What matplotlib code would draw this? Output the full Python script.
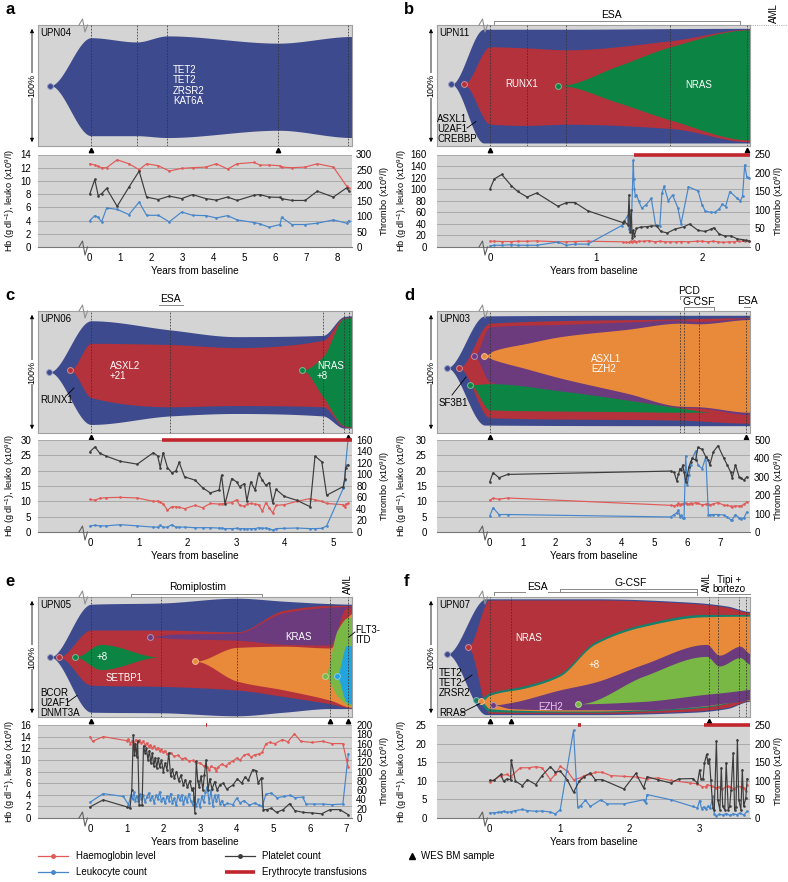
import numpy as np
import matplotlib

matplotlib.use("Agg")
import matplotlib.pyplot as plt
from matplotlib.lines import Line2D

plt.rcParams["font.family"] = ["Liberation Sans", "DejaVu Sans"]
plt.rcParams["mathtext.fontset"] = "custom"
plt.rcParams["mathtext.rm"] = "Liberation Sans"
plt.rcParams["mathtext.it"] = "Liberation Sans:italic"

W, H = 788, 882

# clone colours
BLUE = "#3e4a8e"
RED = "#b3323b"
GREEN = "#0c8544"
ORANGE = "#e98a3b"
PURPLE = "#6b3b7e"
LGREEN = "#79b845"
CYAN = "#22a4de"
TEAL = "#17806b"
# blood count colours
HB_C = "#e05a57"
PLT_C = "#3c3c3c"
LEU_C = "#4686cb"
TRANSF_C = "#c0262c"

# ---------------- blood counts ----------------
A_T = [0.02, 0.18, 0.29, 0.40, 0.56, 0.90, 1.28, 1.61, 1.85, 2.23, 2.58, 2.98, 3.33, 3.76,
       4.10, 4.46, 4.77, 5.32, 5.50, 5.80, 6.15, 6.20, 6.53, 6.96, 7.35, 7.87, 8.30, 8.37]
A_HB = [12.6, 12.4, 12.2, 12.0, 12.0, 13.2, 12.6, 11.7, 12.6, 12.3, 11.5, 11.9, 12.0, 12.1,
        12.6, 11.8, 12.6, 12.8, 12.4, 12.4, 12.3, 12.1, 12.0, 12.1, 12.6, 12.1, 9.2, 8.9]
A_PLT = [172, 219, 167, 173, 190, 132, 194, 246, 162, 154, 165, 157, 170, 157,
         152, 162, 151, 168, 170, 162, 161, 157, 151, 151, 181, 162, 192, 181]
A_LEU = [4.0, 4.75, 4.5, 3.8, 5.9, 5.7, 4.9, 6.8, 4.8, 4.8, 3.8, 5.3, 4.8, 4.75,
         4.4, 4.75, 4.1, 3.7, 3.5, 3.0, 3.4, 4.5, 3.4, 3.4, 3.6, 4.1, 3.6, 4.0]

B_HB_T = [0, 0.04, 0.11, 0.2, 0.26, 0.35, 0.44, 0.64, 0.72, 0.8, 0.92, 1.25, 1.28, 1.31, 1.33,
          1.34, 1.36, 1.38, 1.4, 1.45, 1.5, 1.55, 1.6, 1.65, 1.7, 1.75, 1.8, 1.87, 1.95, 2.0,
          2.05, 2.1, 2.15, 2.2, 2.25, 2.3, 2.35, 2.4, 2.44]
B_HB = [10, 10, 9.5, 9.5, 10, 10, 10.5, 9, 9, 9.5, 10, 9, 8, 8, 10, 9, 11, 9, 10, 10,
        11, 9, 10, 9, 9, 9, 9.5, 9, 10, 10, 9, 10, 9, 8, 9, 9, 10, 10, 10]
B_PLT_T = [0, 0.04, 0.11, 0.2, 0.26, 0.35, 0.44, 0.64, 0.72, 0.8, 0.92, 1.25, 1.26, 1.3, 1.31,
           1.32, 1.33, 1.34, 1.35, 1.36, 1.38, 1.42, 1.48, 1.52, 1.57, 1.61, 1.67, 1.74, 1.83,
           1.88, 1.96, 2.03, 2.08, 2.11, 2.16, 2.21, 2.27, 2.33, 2.38, 2.41, 2.44]
B_PLT = [157, 184, 196, 166, 150, 135, 146, 110, 120, 120, 98, 66, 69, 60, 141, 40, 100, 25,
         45, 30, 50, 54, 55, 57, 57, 42, 38, 48, 55, 62, 45, 42, 48, 52, 35, 30, 30, 22, 20, 18, 16]
B_LEU_T = [0, 0.04, 0.11, 0.2, 0.26, 0.35, 0.44, 0.64, 0.72, 0.8, 0.92, 1.24, 1.3, 1.31, 1.33,
           1.35, 1.355, 1.36, 1.37, 1.38, 1.4, 1.43, 1.47, 1.52, 1.56, 1.6, 1.62, 1.64, 1.68,
           1.72, 1.77, 1.8, 1.87, 1.96, 2.0, 2.03, 2.08, 2.12, 2.16, 2.19, 2.22, 2.26, 2.33,
           2.36, 2.38, 2.40, 2.42, 2.44]
B_LEU = [2, 3, 3, 4, 3, 3, 3, 8.6, 3, 5, 5, 37, 55, 32, 28, 150, 118, 100, 88, 90, 80, 67, 73,
         84, 38, 37, 93, 105, 80, 90, 68, 40, 104, 97, 72, 62, 60, 60, 66, 74, 70, 96, 84, 80,
         88, 142, 121, 120]

C_T = [0, 0.1, 0.2, 0.33, 0.62, 0.97, 1.3, 1.39, 1.44, 1.5, 1.59, 1.68, 1.76, 1.83, 1.94,
       2.16, 2.31, 2.47, 2.65, 2.7, 2.77, 2.91, 3.01, 3.07, 3.17, 3.22, 3.3, 3.39, 3.46, 3.54,
       3.61, 3.68, 3.75, 3.82, 3.99, 4.25, 4.52, 4.62, 4.76, 4.86, 5.2, 5.23, 5.25, 5.3]
C_PLT = [140, 148, 137, 132, 123, 118, 138, 132, 112, 138, 112, 103, 106, 121, 96,
         90, 77, 68, 73, 99, 49, 93, 87, 79, 84, 54, 87, 73, 102, 90,
         81, 86, 51, 74, 62, 55, 44, 132, 122, 64, 79, 93, 112, 117]
C_HB = [10.6, 10.4, 11.0, 11.2, 11.3, 11.1, 10.0, 10.1, 9.8, 9.2, 7.1, 8.3, 8.2, 8.1, 7.6,
        8.7, 7.9, 9.3, 9.1, 9.2, 9.3, 9.6, 10.5, 8.7, 8.4, 9.1, 9.3, 9.1, 8.9, 6.8,
        9.6, 7.9, 6.2, 8.7, 8.9, 10.0, 10.9, 10.5, 10.0, 9.3, 8.9, 8.2, 9.1, 9.3]
C_LEU = [2.0, 2.2, 2.0, 2.0, 2.4, 2.0, 1.6, 1.6, 2.2, 1.6, 1.6, 2.4, 1.6, 1.6, 1.6,
         1.4, 1.4, 1.4, 1.3, 1.3, 1.1, 1.1, 1.2, 1.1, 1.1, 1.0, 1.1, 1.1, 1.4, 1.2,
         1.3, 1.1, 0.55, 1.1, 1.2, 1.3, 1.1, 1.1, 1.2, 2.0, 14.2, 16.9, 22.0, 30.5]

D_T = [0, 0.1, 0.28, 0.54, 5.48, 5.59, 5.67, 5.72, 5.77, 5.81, 5.85, 5.89, 5.94, 5.99,
       6.04, 6.09, 6.14, 6.24, 6.31, 6.44, 6.55, 6.63, 6.67, 6.78, 6.92, 7.1, 7.2, 7.3,
       7.35, 7.45, 7.56, 7.63, 7.71, 7.79]
D_PLT = [273, 322, 295, 313, 331, 324, 278, 313, 345, 336, 364, 327, 273, 309,
         355, 382, 400, 391, 460, 449, 409, 390, 364, 436, 469, 400, 364, 327,
         295, 364, 300, 291, 282, 300]
D_LEU = [5.2, 7.9, 5.7, 5.7, 4.9, 5.7, 6.3, 7.1, 4.9, 5.5, 4.6, 4.6, 24.9, 15.3,
         18.5, 21.8, 24.0, 26.4, 21.8, 20.7, 24.5, 5.5, 5.6, 5.7, 5.7, 5.5, 4.9, 4.0,
         4.0, 5.7, 4.6, 4.4, 4.6, 6.5]
D_HB = [10.4, 11.0, 10.7, 11.1, 8.7, 8.6, 8.8, 9.3, 8.9, 9.2, 9.0, 9.5, 9.3, 9.2,
        9.1, 9.4, 9.2, 9.6, 9.3, 8.9, 9.0, 9.1, 8.8, 9.2, 9.6, 8.7, 8.7, 8.4,
        8.3, 8.6, 8.4, 8.6, 9.0, 9.8]

E_HB_T = [0.0, 0.07, 0.36, 1.0, 1.05, 1.1, 1.15, 1.2, 1.25, 1.3, 1.35, 1.4, 1.45, 1.5, 1.55,
          1.6, 1.65, 1.7, 1.75, 1.8, 1.85, 1.9, 1.95, 2.0, 2.05, 2.1, 2.2, 2.3, 2.4, 2.5,
          2.6, 2.7, 2.8, 2.9, 3.0, 3.1, 3.2, 3.25, 3.3, 3.4, 3.45, 3.5, 3.6, 3.7, 3.8,
          3.9, 4.0, 4.1, 4.2, 4.3, 4.4, 4.5, 4.6, 4.7, 4.8, 4.9, 5.05, 5.25, 5.4, 5.58,
          5.75, 6.05, 6.35, 6.6, 6.9, 7.0, 7.05]
E_HB = [14.0, 13.2, 14.0, 13.3, 13.6, 12.8, 13.3, 12.6, 13.5, 13.0, 13.4, 12.9, 13.2, 12.6,
        12.9, 12.3, 12.6, 12.0, 12.4, 11.8, 12.1, 11.5, 11.8, 11.3, 11.6, 11.0, 11.2, 10.6,
        10.8, 10.2, 10.3, 9.8, 9.9, 9.4, 9.5, 9.0, 8.8, 8.2, 8.9, 8.6, 8.1, 8.8, 9.3, 8.9,
        9.5, 9.8, 10.3, 10.0, 10.8, 11.0, 10.5, 10.9, 11.0, 11.3, 12.8, 13.0, 12.8, 13.5,
        13.1, 14.5, 13.2, 13.0, 13.2, 12.8, 12.8, 10.0, 8.8]
E_PLT_T = [0.0, 0.36, 1.0, 1.09, 1.14, 1.18, 1.21, 1.24, 1.27, 1.3, 1.34, 1.42, 1.46, 1.5,
           1.54, 1.58, 1.62, 1.66, 1.7, 1.74, 1.78, 1.82, 1.86, 1.9, 1.95, 2.0, 2.05, 2.1,
           2.15, 2.2, 2.25, 2.3, 2.36, 2.42, 2.48, 2.55, 2.6, 2.66, 2.72, 2.78, 2.82, 2.86,
           2.9, 2.94, 2.98, 3.03, 3.08, 3.12, 3.17, 3.22, 3.27, 3.33, 3.4, 3.47, 3.55, 3.64,
           3.73, 3.9, 4.02, 4.14, 4.23, 4.32, 4.44, 4.53, 4.59, 4.68, 4.73, 4.82, 4.95, 5.09,
           5.27, 5.45, 5.59, 5.82, 6.05, 6.32, 6.55, 6.82, 7.05]
E_PLT = [24, 39, 24, 21, 60, 179, 135, 160, 132, 165, 28, 27, 155, 140, 150, 125, 145, 118,
         140, 112, 130, 108, 128, 110, 124, 100, 118, 104, 140, 90, 105, 86, 100, 80, 92, 70,
         82, 66, 80, 60, 65, 11, 122, 80, 66, 90, 60, 92, 125, 60, 84, 62, 78, 60, 72, 75,
         62, 71, 84, 75, 88, 81, 104, 102, 75, 87, 18, 18, 21, 12, 18, 31, 16, 12, 11, 9,
         18, 18, 7]
E_LEU_T = [0.0, 0.36, 0.91, 1.05, 1.12, 1.16, 1.2, 1.24, 1.28, 1.32, 1.36, 1.4, 1.45, 1.5,
           1.55, 1.6, 1.65, 1.7, 1.75, 1.8, 1.85, 1.9, 1.95, 2.0, 2.05, 2.1, 2.15, 2.2, 2.25,
           2.3, 2.35, 2.4, 2.45, 2.5, 2.55, 2.6, 2.65, 2.7, 2.75, 2.8, 2.85, 2.9, 2.95, 3.0,
           3.05, 3.1, 3.15, 3.2, 3.25, 3.3, 3.35, 3.4, 3.45, 3.5, 3.55, 3.6, 3.65, 3.75, 3.9,
           4.0, 4.1, 4.2, 4.35, 4.5, 4.6, 4.7, 4.8, 4.95, 5.1, 5.3, 5.45, 5.6, 5.8, 5.9, 6.1,
           6.35, 6.6, 6.9, 7.05]
E_LEU = [2.7, 4.2, 3.7, 2.3, 4.0, 3.2, 4.4, 3.0, 3.8, 2.9, 4.1, 3.3, 3.9, 2.8, 3.6, 4.3, 3.1,
         3.7, 2.6, 3.9, 3.3, 4.5, 2.9, 3.5, 2.5, 3.8, 3.0, 4.2, 2.6, 3.4, 2.2, 3.9, 3.1, 4.0,
         2.4, 3.6, 2.8, 4.2, 3.0, 2.3, 3.6, 2.0, 3.2, 1.9, 3.8, 2.7, 4.4, 5.4, 2.6, 4.8, 2.1,
         3.9, 2.9, 4.0, 2.4, 3.0, 2.2, 2.5, 2.3, 3.4, 2.6, 3.0, 2.2, 2.6, 2.2, 2.0, 4.1, 4.3,
         3.5, 3.7, 3.9, 3.5, 3.6, 2.4, 2.4, 2.4, 2.3, 2.4, 11.0]

F_HB_T = [0, 0.06, 0.16, 0.25, 0.3, 0.44, 0.56, 0.66, 0.75, 0.87, 0.94, 1.01, 1.11, 1.2, 1.3,
          1.35, 1.44, 1.51, 1.61, 1.73, 1.92, 2.11, 2.25, 2.4, 2.59, 2.87, 2.97, 3.04, 3.09,
          3.11, 3.18, 3.23, 3.28, 3.32, 3.4, 3.44, 3.49, 3.54, 3.59, 3.63, 3.66, 3.68]
F_HB = [9.6, 10.1, 11.4, 11.7, 11.1, 13.5, 13.5, 13.8, 13.5, 10.3, 11.7, 13.9, 12.6, 10.3,
        10.8, 11.4, 11.7, 12.3, 12.3, 11.4, 11.2, 11.0, 10.5, 10.8, 10.1, 9.4, 9.2, 8.4, 8.4,
        9.0, 8.5, 8.1, 8.4, 7.8, 8.5, 8.4, 7.8, 8.5, 8.4, 8.1, 7.2, 9.0]
F_PLT_T = [0, 0.06, 0.16, 0.2, 0.25, 0.3, 0.31, 0.37, 0.47, 0.54, 0.66, 0.75, 0.87, 0.94,
           1.01, 1.11, 1.2, 1.28, 1.35, 1.44, 1.51, 1.61, 1.92, 2.09, 2.2, 2.25, 2.4, 2.59,
           2.7, 2.9, 2.97, 3.0, 3.02, 3.05, 3.07, 3.1, 3.12, 3.14, 3.16, 3.19, 3.21, 3.24,
           3.26, 3.29, 3.31, 3.33, 3.36, 3.38, 3.41, 3.43, 3.45, 3.48, 3.5, 3.52, 3.54, 3.56,
           3.59, 3.61, 3.63, 3.66, 3.68]
F_PLT = [101, 101, 117, 99, 105, 103, 155, 99, 87, 103, 90, 114, 138, 123, 126, 103, 69, 99,
         111, 121, 103, 103, 78, 120, 81, 111, 103, 94, 105, 106, 94, 129, 105, 105, 148, 171,
         148, 159, 103, 27, 22, 207, 49, 22, 135, 31, 22, 148, 22, 31, 76, 175, 22, 30, 211,
         49, 22, 130, 31, 54, 106]
F_LEU_T = [0, 0.06, 0.12, 0.16, 0.2, 0.25, 0.3, 0.37, 0.47, 0.54, 0.66, 0.75, 0.87, 0.94,
           1.01, 1.2, 1.26, 1.3, 1.37, 1.44, 1.59, 1.68, 1.92, 2.2, 2.23, 2.25, 2.59, 2.9,
           2.97, 3.0, 3.03, 3.06, 3.09, 3.12, 3.15, 3.19, 3.21, 3.24, 3.28, 3.33, 3.38, 3.43,
           3.48, 3.53, 3.58, 3.63, 3.68]
F_LEU = [1.35, 1.4, 1.5, 1.6, 1.8, 1.5, 1.7, 2.0, 2.3, 2.0, 1.8, 1.9, 1.6, 1.1, 2.25, 23.6,
         3.0, 3.3, 4.8, 3.1, 4.9, 3.8, 3.8, 4.9, 4.0, 6.3, 4.9, 3.1, 2.7, 4.7, 2.5, 3.0, 2.4,
         3.2, 2.6, 5.8, 1.2, 0.6, 1.0, 0.8, 1.2, 0.7, 1.1, 0.9, 1.3, 0.8, 1.8]

# ---------------- clonal evolution (fish plots) ----------------
# (colour, emergence time, emergence position, key times, upper edge, lower edge)
A_CLONES = [
    (BLUE, -1.26, 0.0, [0.06, 1.53, 2.52, 6.1, 8.47], [0.79, 0.72, 0.82, 0.70, 0.81],
     [-0.83, -0.83, -0.86, -0.74, -0.86]),
]
B_CLONES = [
    (BLUE, -0.365, 0.02, [-0.06, 0.72, 1.7, 2.45], [0.93, 0.93, 0.94, 0.945],
     [-0.95, -0.95, -0.95, -0.95]),
    (RED, -0.25, 0.02, [0.0, 0.35, 0.72, 1.7, 2.45], [0.64, 0.62, 0.59, 0.74, 0.93],
     [-0.64, -0.66, -0.64, -0.71, -0.93]),
    (GREEN, 0.645, 0.0, [1.2, 1.7, 2.45], [0.32, 0.64, 0.92], [-0.28, -0.57, -0.90]),
]
C_CLONES = [
    (BLUE, -0.84, 0.0, [0.02, 1.65, 3.0, 4.78, 5.22, 5.38], [0.84, 0.69, 0.58, 0.60, 0.91, 0.92],
     [-0.86, -0.72, -0.68, -0.72, -0.92, -0.92]),
    (RED, -0.41, 0.03, [0.02, 1.65, 3.0, 4.78, 5.22, 5.38], [0.47, 0.45, 0.40, 0.52, 0.89, 0.90],
     [-0.42, -0.57, -0.55, -0.57, -0.90, -0.91]),
    (GREEN, 4.35, 0.03, [4.78, 5.22, 5.38], [0.25, 0.88, 0.89], [-0.40, -0.88, -0.90]),
]
D_CLONES = [
    (BLUE, -1.3, 0.07, [-0.15, 5.76, 7.89], [0.92, 0.93, 0.93], [-0.87, -0.88, -0.88]),
    (RED, -0.94, 0.07, [0.0, 5.76, 7.89], [0.80, 0.87, 0.89], [-0.75, -0.79, -0.84]),
    (PURPLE, -0.48, 0.26, [0.0, 2.15, 4.17, 5.76, 6.34, 7.89], [0.74, 0.78, 0.82, 0.85, 0.83, 0.88],
     [-0.16, -0.33, -0.46, -0.58, -0.59, -0.70]),
    (GREEN, -0.6, -0.21, [0.0, 2.15, 4.17, 5.76, 6.8], [-0.19, -0.31, -0.46, -0.59, -0.66],
     [-0.62, -0.64, -0.65, -0.66, -0.66]),
    (ORANGE, -0.18, 0.26, [0.12, 1.13, 2.15, 4.17, 5.76, 6.34, 7.89],
     [0.35, 0.47, 0.58, 0.70, 0.80, 0.79, 0.86], [0.20, 0.05, -0.10, -0.35, -0.56, -0.57, -0.66]),
]
E_CLONES = [
    (BLUE, -1.09, 0.0, [0.03, 1.95, 4.0, 5.3, 6.55, 7.15], [0.88, 0.90, 0.98, 0.93, 0.89, 0.88],
     [-0.92, -0.93, -0.98, -0.92, -0.86, -0.86]),
    (RED, -0.86, 0.0, [0.03, 1.95, 4.0, 5.3, 6.55, 7.15], [0.45, 0.45, 0.42, 0.78, 0.86, 0.86],
     [-0.47, -0.49, -0.55, -0.66, -0.78, -0.85]),
    (GREEN, -0.41, 0.0, [0.3, 1.9], [0.21, 0.0], [-0.21, 0.0]),
    (PURPLE, 1.63, 0.34, [2.2, 4.0, 5.3, 6.55, 7.0], [0.38, 0.40, 0.74, 0.83, 0.84],
     [0.31, 0.28, 0.21, 0.20, 0.82]),
    (ORANGE, 2.86, -0.07, [4.0, 5.3, 6.55, 7.15], [0.16, 0.18, 0.15, 0.72],
     [-0.40, -0.55, -0.72, -0.84]),
    (LGREEN, 6.4, -0.32, [6.75, 7.05, 7.15], [0.45, 0.66, 0.66], [-0.65, -0.80, -0.81]),
    (CYAN, 6.73, -0.32, [7.0, 7.15], [0.19, 0.19], [-0.75, -0.78]),
]
F_CLONES = [
    (BLUE, -0.61, 0.05, [-0.05, 1.5, 2.92, 3.39, 3.72], [0.97, 0.97, 0.91, 0.85, 0.76],
     [-0.96, -0.96, -0.92, -0.86, -0.74]),
    (RED, -0.31, 0.17, [0.0, 1.5, 2.92, 3.39, 3.72], [0.95, 0.95, 0.89, 0.83, 0.745],
     [-0.94, -0.94, -0.90, -0.84, -0.73]),
    (TEAL, -0.19, -0.72, [0.0, 0.53, 1.0, 1.5, 2.2, 3.06, 3.72], [-0.60, -0.47, -0.28, 0.25, 0.55, 0.71, 0.71],
     [-0.91, -0.92, -0.92, -0.92, -0.90, -0.84, -0.725]),
    (ORANGE, -0.12, -0.74, [0.0, 0.53, 1.0, 1.5, 2.2, 3.06, 3.72], [-0.64, -0.51, -0.32, 0.21, 0.51, 0.67, 0.68],
     [-0.86, -0.89, -0.90, -0.90, -0.88, -0.82, -0.72]),
    (PURPLE, 0.05, -0.80, [0.3, 1.0, 1.5, 2.2, 3.1, 3.28, 3.58, 3.72],
     [-0.76, -0.55, -0.42, -0.12, 0.21, 0.03, 0.18, 0.06],
     [-0.86, -0.88, -0.88, -0.88, -0.81, -0.78, -0.74, -0.71]),
    (LGREEN, 1.27, -0.78, [2.2, 3.1, 3.28, 3.58, 3.72], [-0.32, 0.01, -0.15, -0.01, -0.12],
     [-0.74, -0.62, -0.60, -0.56, -0.54]),
]

# sample times (dashed lines), WES samples, transfusion periods
A_SAMPLES = [0.06, 1.53, 2.52, 6.1, 8.33]
B_SAMPLES = [0.0, 0.35, 0.72, 1.70, 2.42]
C_SAMPLES = [0.02, 1.65, 4.78, 5.22, 5.32]
D_SAMPLES = [0.0, 5.76, 5.9, 6.34, 7.78]
E_SAMPLES = [0.03, 1.95, 4.0, 6.55, 7.05]
F_SAMPLES = [0.01, 0.3, 3.14, 3.27, 3.56, 3.67]
A_WES = [0.06, 6.1]
B_WES = [0.0, 2.42]
C_WES = [0.02, 5.3]
D_WES = [0.0, 7.78]
E_WES = [0.03, 6.55, 7.05]
F_WES = [0.01, 0.3, 3.14]
B_TRANSF = [(1.36, 2.45)]
C_TRANSF = [(1.47, 5.38)]
E_TRANSF = [(3.16, 3.2)]
F_TRANSF = [(1.26, 1.30), (3.06, 3.72)]

COLS = {0: (38, 352), 1: (437, 750)}
ROWS = {0: (25, 146, 154.5, 247), 1: (311, 433, 440, 532), 2: (597, 717, 725, 818)}

fig = plt.figure(figsize=(W / 100, H / 100), dpi=100)


def add_px_axes(x0, y0, x1, y1):
    return fig.add_axes([x0 / W, 1 - y1 / H, (x1 - x0) / W, (y1 - y0) / H])


def ftext(x, y, s, **kw):
    kw.setdefault("fontsize", 7)
    kw.setdefault("va", "center")
    fig.text(x / W, 1 - y / H, s, **kw)


def fline(xs, ys, **kw):
    kw.setdefault("color", "black")
    kw.setdefault("lw", 0.6)
    fig.add_artist(Line2D([x / W for x in xs], [1 - y / H for y in ys], **kw))


def pchip(kt, kv, tt):
    kt = np.asarray(kt, float)
    kv = np.asarray(kv, float)
    h = np.diff(kt)
    d = np.diff(kv) / h
    m = np.zeros_like(kv)
    for i in range(1, len(kv) - 1):
        if d[i - 1] * d[i] > 0:
            w1 = 2 * h[i] + h[i - 1]
            w2 = h[i] + 2 * h[i - 1]
            m[i] = (w1 + w2) / (w1 / d[i - 1] + w2 / d[i])
    idx = np.clip(np.searchsorted(kt, tt, side="right") - 1, 0, len(kt) - 2)
    hh = h[idx]
    u = np.clip((tt - kt[idx]) / hh, 0, 1)
    return ((2 * u**3 - 3 * u**2 + 1) * kv[idx] + (u**3 - 2 * u**2 + u) * hh * m[idx]
            + (-2 * u**3 + 3 * u**2) * kv[idx + 1] + (u**3 - u**2) * hh * m[idx + 1])


def lighten(c, f=0.45):
    r, g, b = matplotlib.colors.to_rgb(c)
    return (r + (1 - r) * f, g + (1 - g) * f, b + (1 - b) * f)


def draw_panel(letter, col, row, xlim, xticks, lmax, lstep, rmax, rstep, series, clones,
               samples, wes, transf, upn):
    x0, x1 = COLS[col]
    fy0, fy1, cy0, cy1 = ROWS[row]
    half = (fy1 - fy0) / 2

    # fish plot
    af = add_px_axes(x0, fy0, x1, fy1)
    af.set_xlim(xlim)
    af.set_ylim(-1, 1)
    af.set_facecolor("#d4d4d4")
    af.set_xticks([])
    af.set_yticks([])
    for s in af.spines.values():
        s.set_color("#a0a0a0")
        s.set_linewidth(0.8)
    for color, t0, y0, kt, hi, lo in clones:
        tt = np.linspace(t0, xlim[1], 500)
        top = pchip([t0] + kt, [y0] + hi, tt)
        bot = pchip([t0] + kt, [y0] + lo, tt)
        af.fill_between(tt, bot, top, color=color, lw=0, zorder=2)
        af.plot([t0], [y0], "o", ms=4.2, mfc=color, mec=lighten(color), mew=0.7, zorder=3)
    for t in samples:
        af.axvline(t, color="#333333", lw=0.55, ls=(0, (2.2, 1.8)), zorder=4)
    af.plot(wes, [-1 - 3.5 / half] * len(wes), "^", color="black", ms=3.2, clip_on=False,
            zorder=5)

    # blood counts
    ac = add_px_axes(x0, cy0, x1, cy1)
    ac.set_facecolor("#d4d4d4")
    ac.set_xlim(xlim)
    ac.set_ylim(0, lmax)
    ac.set_yticks(np.arange(0, lmax + 0.01, lstep))
    ac.set_xticks(xticks)
    ac.yaxis.grid(True, color="#a2a2a2", lw=0.6)
    ac.set_axisbelow(True)
    for k in ("left", "right", "top"):
        ac.spines[k].set_visible(False)
    ac.spines["bottom"].set_color("#777777")
    ac.spines["bottom"].set_linewidth(0.8)
    ac.tick_params(length=0, labelsize=7, pad=5 if col == 0 else 7.5)
    ac.tick_params(axis="x", pad=4)
    ar = ac.twinx()
    ar.set_ylim(0, rmax)
    ar.set_yticks(np.arange(0, rmax + 0.01, rstep))
    for s in ar.spines.values():
        s.set_visible(False)
    ar.tick_params(length=0, labelsize=7, pad=3)
    for t, v, c, side in series:
        target = ar if side == "R" else ac
        target.plot(t, v, "-o", color=c, lw=0.85, ms=1.9, mew=0)
    for t1, t2 in transf:
        ac.plot([t1, t2], [lmax, lmax], color=TRANSF_C, lw=2.6, clip_on=False,
                solid_capstyle="butt", zorder=6)

    # axis break marks
    bx = 79 if col == 0 else 479
    fline([bx, bx + 3.5, bx + 6, bx + 8.5], [fy0, fy0 - 6, fy0 + 7, fy0], color="#909090", lw=0.8)
    fline([bx, bx + 3.5, bx + 6, bx + 8.5], [cy1, cy1 - 6, cy1 + 8, cy1], color="#606060", lw=0.8)

    # 100% arrow
    ax_x = x0 - 6
    fig.add_artist(matplotlib.patches.FancyArrowPatch(
        (ax_x / W, 1 - (fy1 - 1) / H), (ax_x / W, 1 - (fy0 + 1) / H),
        transform=fig.transFigure, arrowstyle="<|-|>,head_length=2.2,head_width=1.1",
        lw=0.6, color="black"))
    ftext(ax_x, (fy0 + fy1) / 2, "100%", fontsize=6.5, rotation=90, ha="center",
          bbox=dict(fc="white", ec="none", pad=0.6))

    ftext(x0 + 2.5, fy0 + 8, upn, fontsize=7, ha="left")
    ftext(x0 - 33, fy0 - 16, letter, fontsize=12, fontweight="bold", ha="left")

    # axis labels
    cmid = (cy0 + cy1) / 2
    ftext(10 if col == 0 else 402, cmid,
          r"Hb (g dl$^{-1}$), leuko (x10$^{9}$/l)", fontsize=6.6, rotation=90, ha="center")
    ftext(x1 + 33 if col == 0 else 779, cmid, r"Thrombo (x10$^{9}$/l)", fontsize=6.6,
          rotation=90, ha="center")
    ftext((x0 + x1) / 2, cy1 + 24, "Years from baseline", fontsize=7.2, ha="center")
    return af


def bracket(af, t1, t2, y, top, half, ticks=True):
    yd = 1 + (top - y) / half
    af.plot([t1, t2], [yd, yd], color="#8a8a8a", lw=0.7, clip_on=False)
    if ticks:
        for t in (t1, t2):
            af.plot([t, t], [yd, yd - 2.5 / half], color="#8a8a8a", lw=0.7, clip_on=False)


W_ = "white"

# ---- panel a ----
af = draw_panel("a", 0, 0, (-1.65, 8.47), range(0, 9), 14, 2, 300, 50,
                [(A_T, A_HB, HB_C, "L"), (A_T, A_LEU, LEU_C, "L"), (A_T, A_PLT, PLT_C, "R")],
                A_CLONES, A_SAMPLES, A_WES, [], "UPN04")
ftext(173, 85.5, "TET2\nTET2\nZRSR2\nKAT6A", color=W_, ha="left", linespacing=1.05)

# ---- panel b ----
af = draw_panel("b", 1, 0, (-0.50, 2.45), [0, 1, 2], 160, 20, 250, 50,
                [(B_HB_T, B_HB, HB_C, "L"), (B_LEU_T, B_LEU, LEU_C, "L"),
                 (B_PLT_T, B_PLT, PLT_C, "R")],
                B_CLONES, B_SAMPLES, B_WES, B_TRANSF, "UPN11")
bracket(af, 0.04, 2.36, 21, 25, 60.5)
af.text(1.14, 1 + (25 - 15) / 60.5, "ESA", fontsize=7.5, ha="center", va="center")
ftext(774, 13, "AML", fontsize=7, rotation=90, ha="center")
fline([750, 787], [25, 25], color="#888888", lw=0.6, ls=":")
ftext(505, 84, "RUNX1", color=W_, ha="left")
ftext(699, 85, "NRAS", color=W_, ha="center")
ftext(437, 129.5, "ASXL1\nU2AF1\nCREBBP", ha="left", linespacing=1.0)
fline([467, 476], [128, 121.5])

# ---- panel c ----
af = draw_panel("c", 0, 1, (-1.07, 5.38), range(0, 6), 30, 5, 160, 20,
                [(C_T, C_HB, HB_C, "L"), (C_T, C_LEU, LEU_C, "L"), (C_T, C_PLT, PLT_C, "R")],
                C_CLONES, C_SAMPLES, C_WES, C_TRANSF, "UPN06")
bracket(af, 1.42, 1.91, 305, 311, 61, ticks=False)
af.text(1.66, 1 + (311 - 299) / 61, "ESA", fontsize=7.5, ha="center", va="center")
ftext(110, 371, "ASXL2\n+21", color=W_, ha="left", linespacing=1.05)
ftext(317, 371, "NRAS\n+8", color=W_, ha="left", linespacing=1.05)
ftext(40, 400, "RUNX1", ha="left")
fline([67, 74], [395, 388])

# ---- panel d ----
af = draw_panel("d", 1, 1, (-1.6, 7.89), range(0, 8), 30, 5, 500, 100,
                [(D_T, D_HB, HB_C, "L"), (D_T, D_LEU, LEU_C, "L"), (D_T, D_PLT, PLT_C, "R")],
                D_CLONES, D_SAMPLES, D_WES, [], "UPN03")
bracket(af, 5.76, 6.34, 296, 311, 61)
bracket(af, 5.9, 6.8, 307, 311, 61)
bracket(af, 7.7, 7.89, 307, 311, 61, ticks=False)
af.text(6.05, 1 + (311 - 290.5) / 61, "PCD", fontsize=7.5, ha="center", va="center")
af.text(6.33, 1 + (311 - 301.5) / 61, "G-CSF", fontsize=7.5, ha="center", va="center")
af.text(7.8, 1 + (311 - 301) / 61, "ESA", fontsize=7.5, ha="center", va="center")
ftext(591, 364, "ASXL1\nEZH2", color=W_, ha="left", linespacing=1.05)
ftext(439, 403, "SF3B1", ha="left")
fline([452, 466], [395, 377])

# ---- panel e ----
af = draw_panel("e", 0, 2, (-1.42, 7.15), range(0, 8), 16, 2, 200, 20,
                [(E_HB_T, E_HB, HB_C, "L"), (E_LEU_T, E_LEU, LEU_C, "L"),
                 (E_PLT_T, E_PLT, PLT_C, "R")],
                E_CLONES, E_SAMPLES, E_WES, E_TRANSF, "UPN05")
bracket(af, 1.12, 4.69, 594, 597, 60)
af.text(2.95, 1 + (597 - 587.5) / 60, "Romiplostim", fontsize=7.5, ha="center", va="center")
ftext(348, 584, "AML", fontsize=7, rotation=90, ha="center")
ftext(97, 657, "+8", color=W_, ha="left")
ftext(106, 678, "SETBP1", color=W_, ha="left")
ftext(285, 637, "KRAS", color=W_, ha="left")
ftext(355, 635, "FLT3-\nITD", ha="left", linespacing=1.0)
fline([355, 349], [632, 637])
ftext(40, 703, "BCOR\nU2AF1\nDNMT3A", ha="left", linespacing=1.0)
fline([68, 77], [702, 695.5])

# ---- panel f ----
af = draw_panel("f", 1, 2, (-0.75, 3.72), range(0, 4), 25, 5, 250, 50,
                [(F_HB_T, F_HB, HB_C, "L"), (F_LEU_T, F_LEU, LEU_C, "L"),
                 (F_PLT_T, F_PLT, PLT_C, "R")],
                F_CLONES, F_SAMPLES, F_WES, F_TRANSF, "UPN07")
bracket(af, 0.06, 2.96, 592, 597, 60)
bracket(af, 1.0, 2.96, 589, 597, 60)
bracket(af, 3.27, 3.72, 594, 597, 60, ticks=False)
af.text(0.68, 1 + (597 - 587.5) / 60, "ESA", fontsize=7.5, ha="center", va="center",
        bbox=dict(fc="white", ec="none", pad=0.5))
af.text(2.01, 1 + (597 - 583.5) / 60, "G-CSF", fontsize=7.5, ha="center", va="center",
        bbox=dict(fc="white", ec="none", pad=0.5))
ftext(707, 582, "AML", fontsize=7, rotation=90, ha="center")
ftext(729, 584.5, "Tipi +\nbortezo", fontsize=7.2, ha="center", linespacing=0.95)
ftext(515, 638, "NRAS", color=W_, ha="left")
ftext(589, 665, "+8", color=W_, ha="left")
ftext(538, 707, "EZH2", color="#f0c6ef", ha="left")
ftext(439, 682.5, "TET2\nTET2\nZRSR2", ha="left", linespacing=1.0)
fline([462, 472], [682, 675])
ftext(439, 713, "RRAS", ha="left")
fline([461, 480], [713, 703.5])

# ---- legend ----
LY1, LY2 = 856, 872
fline([38, 68], [LY1, LY1], color=HB_C, lw=0.9)
fline([53], [LY1], color=HB_C, marker="o", ms=2.5, lw=0)
ftext(76, LY1, "Haemoglobin level", fontsize=7, ha="left")
fline([38, 68], [LY2, LY2], color=LEU_C, lw=0.9)
fline([53], [LY2], color=LEU_C, marker="o", ms=2.5, lw=0)
ftext(76, LY2, "Leukocyte count", fontsize=7, ha="left")
fline([225, 255], [LY1, LY1], color=PLT_C, lw=0.9)
fline([240], [LY1], color=PLT_C, marker="o", ms=2.5, lw=0)
ftext(262, LY1, "Platelet count", fontsize=7, ha="left")
fline([225, 255], [LY2, LY2], color=TRANSF_C, lw=2.6, solid_capstyle="butt")
ftext(262, LY2, "Erythrocyte transfusions", fontsize=7, ha="left")
fline([412], [LY1], color="black", marker="^", ms=4, lw=0)
ftext(421, LY1, "WES BM sample", fontsize=7, ha="left")

fig.savefig("out.png", dpi=100)
